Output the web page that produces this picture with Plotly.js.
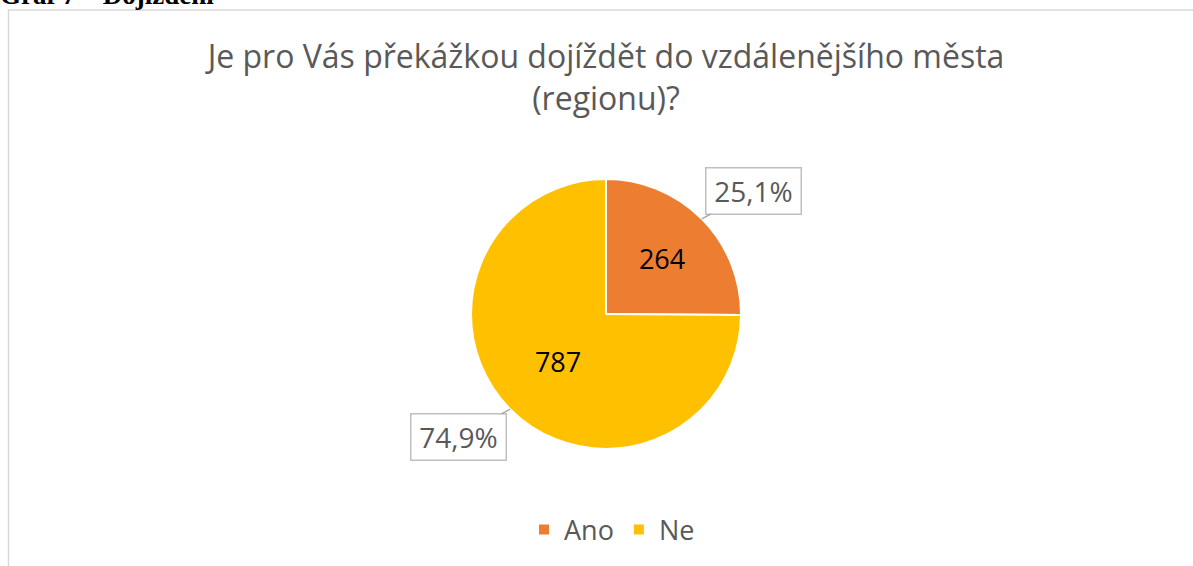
<!DOCTYPE html>
<html>
<head>
<meta charset="utf-8">
<script src="https://cdn.plot.ly/plotly-3.0.1.min.js"></script>
<style>html,body{margin:0;padding:0;background:#fff;}#chart{width:1193px;height:566px;}</style>
</head>
<body>
<div id="chart"></div>
<script>
const categories = ['Ano', 'Ne'];
const counts = [264, 787];
const percentLabels = ['25,1%', '74,9%'];
const sliceColors = ['#ED7D31', '#FFC000'];
const chartTitle = 'Je pro Vás překážkou dojíždět do vzdálenějšího města<br>(regionu)?';
const captionText = 'Graf 7 – Dojíždění';

const W = 1193, H = 566;
const cx = 606, cy = 314, R = 135;   // pie centre / radius in px (layout)
const domX = [(cx - 1.6 * R) / W, (cx + 1.6 * R) / W];
const domY = [1 - (cy + R) / H, 1 - (cy - R) / H];

// percentage call-outs, positioned from the slice mid-angles
const total = counts.reduce((a, b) => a + b, 0);
let cum = 0;
const annotations = [];
counts.forEach((v, i) => {
  const mid = (cum + v / 2) / total * 2 * Math.PI; // clockwise from 12 o'clock
  cum += v;
  const dx = Math.sin(mid), dy = -Math.cos(mid); // screen px direction (y down)
  const px = cx + dx * R, py = cy + dy * R;
  annotations.push({
    x: px / W, y: 1 - py / H, xref: 'paper', yref: 'paper',
    text: percentLabels[i], showarrow: true, arrowhead: 0, arrowwidth: 1.3,
    arrowcolor: '#A6A6A6', standoff: 0,
    ax: Math.sign(dx) * 52, ay: Math.sign(dy) * 28,
    width: 92, height: 43, bordercolor: '#BFBFBF', borderwidth: 1.5,
    bgcolor: '#FFFFFF',
    font: {family: 'Open Sans, sans-serif', size: 28, color: '#595959'}
  });
});
annotations.push({
  xref: 'paper', yref: 'paper', x: 0, y: 1, xanchor: 'left', yanchor: 'bottom',
  yshift: -12, xshift: -2, showarrow: false, text: '<b>' + captionText + '</b>',
  font: {family: 'Liberation Serif, serif', size: 27, color: '#000'}
});

const data = [{
  type: 'pie',
  labels: categories,
  values: counts,
  sort: false,
  direction: 'clockwise',
  rotation: 0,
  marker: {colors: sliceColors, line: {color: '#FFFFFF', width: 2}},
  textinfo: 'value',
  textposition: 'inside',
  insidetextorientation: 'horizontal',
  textfont: {family: 'Open Sans, sans-serif', size: 27, color: '#000000'},
  hoverinfo: 'skip',
  domain: {x: domX, y: domY}
}];

const layout = {
  width: W, height: H,
  margin: {l: 0, r: 0, t: 0, b: 0},
  paper_bgcolor: '#FFFFFF',
  title: {
    text: chartTitle, x: cx / W, xanchor: 'center', y: 1 - 68 / H, yanchor: 'middle',
    font: {family: 'Open Sans, sans-serif', size: 32, color: '#595959'}
  },
  showlegend: true,
  legend: {
    orientation: 'h', x: 612 / W, xanchor: 'center', y: 1 - 530 / H, yanchor: 'middle',
    font: {family: 'Open Sans, sans-serif', size: 27, color: '#595959'},
    itemclick: false, itemdoubleclick: false
  },
  shapes: [{
    type: 'rect', xref: 'paper', yref: 'paper',
    x0: 8.5 / W, x1: 1.01, y0: -0.01, y1: 1 - 10 / H,
    line: {color: '#D9D9D9', width: 1.5}, fillcolor: 'rgba(0,0,0,0)', layer: 'below'
  }],
  annotations: annotations
};

Plotly.newPlot('chart', data, layout, {displayModeBar: false, staticPlot: true});
</script>
</body>
</html>
